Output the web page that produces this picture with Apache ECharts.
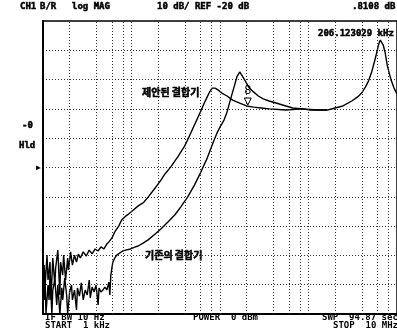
<!DOCTYPE html>
<html>
<head>
<meta charset="utf-8">
<script src="https://cdn.jsdelivr.net/npm/echarts@6/dist/echarts.min.js"></script>
<style>
  html, body { margin: 0; padding: 0; background: #fff; }
  #chart { width: 397px; height: 331px; }
</style>
</head>
<body>
<div id="chart"></div>
<script>
// frequencies in kHz, magnitudes in dB (log MAG, 10 dB/div, REF -20 dB)
const proposedFreq = [1.03, 1.05, 1.11, 1.14, 1.20, 1.23, 1.29, 1.36, 1.39, 1.47, 1.55, 1.58, 1.67, 1.71, 1.80, 1.90, 1.94, 2.05, 2.15, 2.27, 2.39, 2.51, 2.64, 2.85, 3.08, 3.33, 3.59, 3.88, 4.19, 4.52, 4.88, 5.27, 5.55, 5.99, 6.47, 7.17, 7.74, 8.58, 9.26, 10.5, 11.9, 13.5, 15.4, 18.5, 21.5, 23.9, 27.8, 33.3, 39.8, 43.0, 51.4, 60.0, 66.4, 71.7, 77.4, 81.5, 88.0, 95.0, 105, 120, 139, 167, 200, 239, 293, 359, 555, 858, 1291, 1626];
const proposedDb = [-53.3, -61.8, -49.9, -58.4, -52.3, -65.2, -50.9, -60.1, -54.3, -48.2, -63.5, -52.3, -56.7, -49.9, -58.4, -50.9, -55.0, -48.8, -53.3, -49.9, -52.3, -49.5, -50.9, -48.8, -50.2, -48.2, -49.5, -47.8, -48.5, -47.1, -47.8, -46.1, -45.4, -44.1, -42.0, -40.0, -37.9, -36.6, -35.9, -34.5, -33.1, -32.1, -30.1, -27.0, -24.3, -22.2, -19.8, -16.4, -12.7, -10.6, -5.5, -1.1, 2.0, 4.1, 6.1, 7.1, 7.1, 6.5, 5.4, 4.4, 3.0, 2.0, 1.0, 0.6, 0.3, 0.0, -0.4, 0.0, -0.4, -0.4];

const existingFreq = [1.03, 1.05, 1.08, 1.14, 1.17, 1.20, 1.26, 1.29, 1.36, 1.43, 1.47, 1.55, 1.63, 1.67, 1.76, 1.85, 1.90, 2.0, 2.10, 2.15, 2.27, 2.39, 2.45, 2.58, 2.71, 2.85, 3.0, 3.16, 3.33, 3.42, 3.59, 3.78, 3.98, 4.19, 4.30, 4.52, 4.76, 5.01, 5.27, 5.55, 5.69, 5.84, 6.15, 6.47, 6.81, 7.17, 7.94, 8.58, 9.74, 11.1, 11.9, 13.5, 15.4, 18.5, 21.5, 25.8, 30.8, 35.9, 43.0, 51.4, 60.0, 71.7, 79.4, 85.8, 92.6, 100, 111, 120, 129, 143, 155, 167, 175, 190, 210, 239, 271, 308, 359, 430, 555, 664, 858, 1052, 1291, 1626, 1995, 2448, 3083, 3594, 3981, 4405, 4760, 5142, 5550, 5843, 6150, 6310, 6474, 6643, 6988, 7356, 7743, 8150, 8577, 9260, 10000];
const existingDb = [-65.2, -55.0, -70.0, -60.1, -65.2, -56.7, -70.0, -61.8, -58.4, -66.9, -60.1, -70.0, -61.1, -65.2, -57.7, -63.5, -70.0, -62.5, -60.1, -65.2, -61.8, -68.6, -61.1, -63.9, -59.4, -65.2, -61.8, -63.5, -58.4, -64.5, -60.8, -62.5, -60.1, -66.9, -61.1, -62.5, -61.8, -60.8, -61.8, -59.1, -63.5, -56.7, -52.3, -50.9, -49.9, -49.5, -48.5, -48.2, -47.8, -47.1, -46.8, -45.8, -44.7, -42.7, -41.0, -38.6, -36.2, -33.5, -30.1, -26.0, -21.9, -16.8, -13.3, -10.6, -8.2, -6.2, -3.8, -1.1, 2.4, 7.1, 10.9, 12.6, 12.3, 9.9, 7.5, 5.8, 4.4, 3.4, 2.7, 2.0, 1.0, 0.3, 0.0, -0.4, -0.4, -0.4, 0.3, 1.0, 2.7, 4.1, 5.4, 7.5, 9.5, 12.3, 16.0, 18.7, 21.5, 22.8, 23.5, 23.2, 21.8, 19.1, 15.0, 12.3, 9.9, 7.1, 5.1];

// log grid lines at 2, 4, 6, 8 of each decade
const gridFreqs = [2, 4, 6, 8, 10, 20, 40, 60, 80, 100, 200, 400, 600, 800, 1000, 2000, 4000, 6000, 8000];
const marker = [206.123029, 0.8108];

const pairs = (xs, ys) => xs.map((x, i) => [x, ys[i]]);
const mono = 'bold 9px "DejaVu Sans Mono"';
const small = 'bold 8px "DejaVu Sans Mono"';
const kor = 'bold 10px "Noto Sans CJK KR"';
const txt = (x, y, text, font, heavy) => ({
  type: 'text', x: x, y: y, silent: true,
  style: {
    text: text, font: font, fill: '#000', verticalAlign: 'middle',
    stroke: heavy ? '#000' : null, lineWidth: heavy ? 0.5 : 0
  }
});

const chart = echarts.init(document.getElementById('chart'));
chart.setOption({
  animation: false,
  backgroundColor: '#fff',
  grid: { left: 43, top: 21, right: -6, bottom: 17, show: true, borderColor: '#000', borderWidth: 1.5 },
  xAxis: {
    type: 'log', logBase: 10, min: 1, max: 10000,
    axisLine: { onZero: false, lineStyle: { color: '#000', width: 2 } },
    axisTick: { show: false }, axisLabel: { show: false }, splitLine: { show: false }
  },
  yAxis: {
    type: 'value', min: -70, max: 30, interval: 10,
    axisLine: { show: true, onZero: false, lineStyle: { color: '#000', width: 2 } },
    axisTick: { show: false }, axisLabel: { show: false },
    splitLine: { lineStyle: { color: '#333', type: [1, 2], width: 1 } }
  },
  series: [
    {
      type: 'line', data: pairs(proposedFreq, proposedDb),
      symbol: 'none', lineStyle: { color: '#000', width: 1.4 },
      markLine: {
        silent: true, symbol: 'none', label: { show: false },
        lineStyle: { color: '#333', type: [1, 2], width: 1 },
        data: gridFreqs.map(f => ({ xAxis: f }))
      },
      markPoint: {
        symbol: 'triangle', symbolRotate: 180, symbolSize: 7, symbolOffset: [0, -5],
        itemStyle: { color: '#fff', borderColor: '#000', borderWidth: 1 },
        label: { show: true, position: 'top', distance: 1, formatter: '8', color: '#000', font: small },
        data: [{ coord: marker }]
      }
    },
    {
      type: 'line', data: pairs(existingFreq, existingDb),
      symbol: 'none', lineStyle: { color: '#000', width: 1.4 }
    }
  ],
  graphic: [
    txt(20, 7, 'CH1', mono, true),
    txt(40, 7, 'B/R', mono, true),
    txt(72, 7, 'log MAG', mono, true),
    txt(157, 7, '10 dB/ REF -20 dB', mono, true),
    txt(352, 7, '.8108 dB', mono, true),
    txt(318, 34, '206.123029 kHz', mono, true),
    txt(22, 126, '-0', mono, true),
    txt(19, 146, 'Hld', mono, true),
    txt(36, 168, '\u25B6', small),
    txt(45, 318, 'IF BW 10 Hz', mono),
    txt(45, 326, 'START  1 kHz', mono),
    txt(193, 318, 'POWER  0 dBm', mono),
    txt(322, 318, 'SWP  94.87 sec', mono),
    txt(333, 326, 'STOP  10 MHz', mono),
    txt(142, 92, '제안된 결합기', kor, true),
    txt(145, 255, '기존의 결합기', kor, true)
  ]
});
</script>
</body>
</html>
